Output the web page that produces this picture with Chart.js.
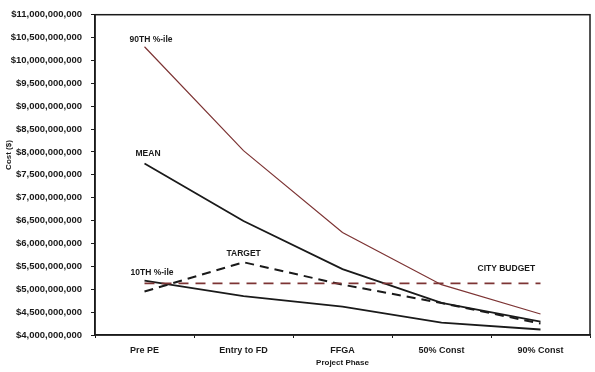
<!DOCTYPE html>
<html>
<head>
<meta charset="utf-8">
<script src="https://cdn.jsdelivr.net/npm/chart.js@4.4.1/dist/chart.umd.min.js"></script>
<style>
  html, body { margin: 0; padding: 0; background: #fff; }
  #wrap { width: 595px; height: 372px; position: relative; }
</style>
</head>
<body>
<div id="wrap"><canvas id="cost-chart"></canvas></div>
<script>
const phases = ['Pre PE', 'Entry to FD', 'FFGA', '50% Const', '90% Const'];

// values in $ billions
const p90 = [10.30, 8.03, 6.24, 5.10, 4.46];
const mean = [7.75, 6.49, 5.44, 4.70, 4.29];
const p10 = [5.19, 4.85, 4.62, 4.27, 4.12];
const target = [4.95, 5.59, 5.10, 4.70, 4.25];
const cityBudget = [5.13, 5.13, 5.13, 5.13, 5.13];

const yTicks = [4, 4.5, 5, 5.5, 6, 6.5, 7, 7.5, 8, 8.5, 9, 9.5, 10, 10.5, 11];

const BILLION = 1e9;
const toDollars = arr => arr.map(v => v * BILLION);

const fontFamily = "'Liberation Sans', Arial, sans-serif";
const ink = '#1a1a1a';
const brown = '#7d3434';

function fmtMoney(v) {
    return '$' + Math.round(v).toLocaleString('en-US');
}

// series captions, placed relative to a point of each line
const captions = [
    { text: '90TH %-ile', data: p90, idx: 0, dx: -15, dy: -7 },
    { text: 'MEAN', data: mean, idx: 0, dx: -9, dy: -10 },
    { text: 'TARGET', data: target, idx: 1, dx: -17, dy: -9 },
    { text: '10TH %-ile', data: p10, idx: 0, dx: -14, dy: -8 },
    { text: 'CITY BUDGET', data: cityBudget, idx: 3, dx: 36, dy: -15 }
];

const decorPlugin = {
    id: 'decor',
    afterDatasetsDraw(chart) {
        const { ctx, chartArea, scales } = chart;
        ctx.save();

        // frame
        ctx.strokeStyle = ink;
        ctx.lineWidth = 1.5;
        ctx.strokeRect(chartArea.left, chartArea.top, chartArea.right - chartArea.left, chartArea.bottom - chartArea.top);

        // captions
        ctx.fillStyle = ink;
        ctx.font = 'bold 8.5px ' + fontFamily;
        ctx.textBaseline = 'middle';
        ctx.textAlign = 'left';
        captions.forEach(c => {
            const x = scales.x.getPixelForValue(c.idx);
            const y = scales.y.getPixelForValue(c.data[c.idx] * BILLION);
            ctx.fillText(c.text, x + c.dx, y + c.dy);
        });

        // y axis title
        ctx.font = 'bold 8px ' + fontFamily;
        ctx.translate(9, 155);
        ctx.rotate(-Math.PI / 2);
        ctx.textAlign = 'center';
        ctx.fillText('Cost ($)', 0, 0);
        ctx.restore();
    }
};

const lineBase = { pointRadius: 0, tension: 0, fill: false };

new Chart(document.getElementById('cost-chart'), {
    type: 'line',
    data: {
        labels: phases,
        datasets: [
            { ...lineBase, label: 'CITY BUDGET', data: toDollars(cityBudget), borderColor: brown, borderWidth: 1.8, borderDash: [10, 7] },
            { ...lineBase, label: '90TH %-ile', data: toDollars(p90), borderColor: brown, borderWidth: 1.2 },
            { ...lineBase, label: 'MEAN', data: toDollars(mean), borderColor: ink, borderWidth: 1.8 },
            { ...lineBase, label: '10TH %-ile', data: toDollars(p10), borderColor: ink, borderWidth: 1.8 },
            { ...lineBase, label: 'TARGET', data: toDollars(target), borderColor: ink, borderWidth: 2, borderDash: [9, 6] }
        ]
    },
    options: {
        responsive: true,
        maintainAspectRatio: false,
        animation: false,
        layout: { padding: { left: 0, right: 5, top: 8, bottom: 4 } },
        plugins: {
            legend: { display: false },
            tooltip: { enabled: false }
        },
        scales: {
            x: {
                offset: true,
                grid: { drawOnChartArea: false, offset: true, tickLength: 3, color: ink },
                border: { color: ink, width: 1.5 },
                ticks: {
                    color: ink,
                    padding: 7,
                    font: { family: fontFamily, size: 9, weight: 'bold' }
                },
                title: {
                    display: true,
                    text: 'Project Phase',
                    color: ink,
                    padding: { top: 1, bottom: 0 },
                    font: { family: fontFamily, size: 8, weight: 'bold' }
                },
                afterFit(scale) { scale.height = 33; }
            },
            y: {
                min: 4 * BILLION,
                max: 11 * BILLION,
                afterBuildTicks(scale) {
                    scale.ticks = yTicks.map(v => ({ value: v * BILLION }));
                },
                grid: { drawOnChartArea: false, tickLength: 4, color: ink },
                border: { color: ink, width: 1.5 },
                ticks: {
                    color: ink,
                    padding: 9,
                    font: { family: fontFamily, size: 9.5, weight: 'bold' },
                    callback: v => fmtMoney(v)
                },
                afterFit(scale) { scale.width = 95; }
            }
        }
    },
    plugins: [decorPlugin]
});
</script>
</body>
</html>
